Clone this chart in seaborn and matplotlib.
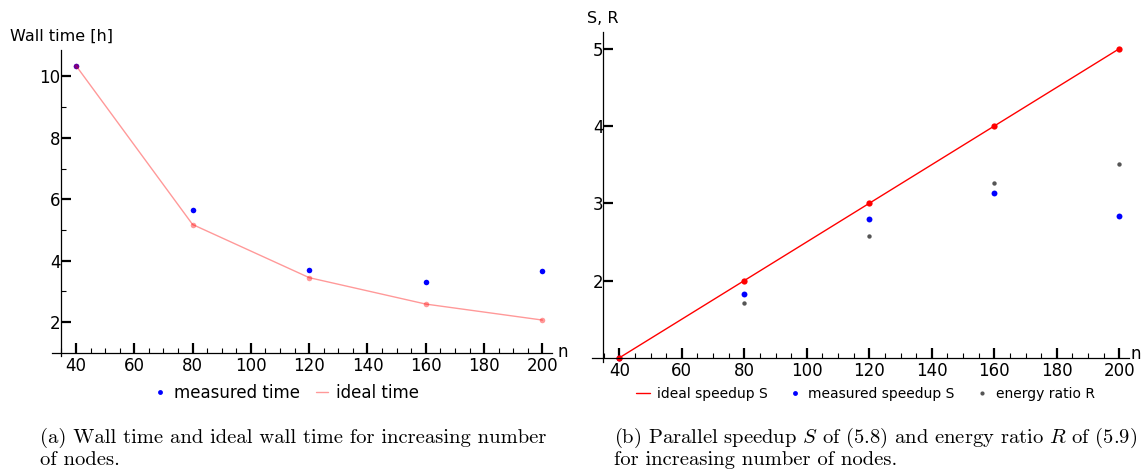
import matplotlib

matplotlib.use("Agg")
import matplotlib.pyplot as plt
import seaborn as sns
from matplotlib.lines import Line2D
from matplotlib.ticker import FixedLocator, MultipleLocator, NullFormatter

sns.set_style("white")
plt.rcParams["font.family"] = ["DejaVu Sans"]
plt.rcParams["mathtext.fontset"] = "cm"
plt.rcParams["text.color"] = "black"
plt.rcParams["xtick.color"] = "black"
plt.rcParams["ytick.color"] = "black"
plt.rcParams["xtick.labelcolor"] = "black"
plt.rcParams["ytick.labelcolor"] = "black"

# data
n_nodes = [40, 80, 120, 160, 200]
measured_time = [10.35, 5.65, 3.70, 3.31, 3.66]
ideal_time = [10.35, 5.18, 3.45, 2.59, 2.07]
ideal_speedup = [1.0, 2.0, 3.0, 4.0, 5.0]
measured_speedup = [1.0, 1.83, 2.79, 3.13, 2.84]
energy_ratio = [1.0, 1.71, 2.58, 3.26, 3.51]

W, H = 1145, 469
fig = plt.figure(figsize=(W / 100, H / 100), dpi=100)
SERIF = ["cmr10", "DejaVu Serif"]


def px_axes(x0, x1, y_top, y_bot):
    return fig.add_axes([x0 / W, 1 - y_bot / H, (x1 - x0) / W, (y_bot - y_top) / H])


def style_axes(ax, ycross_x):
    sns.despine(ax=ax)
    ax.spines["left"].set_position(("data", ycross_x))
    ax.spines["bottom"].set_position(("data", 1))
    for side in ("left", "bottom"):
        ax.spines[side].set_linewidth(0.9)
        ax.spines[side].set_color("black")
    ax.xaxis.set_major_locator(MultipleLocator(20))
    ax.xaxis.set_minor_locator(MultipleLocator(5))
    ax.tick_params(which="both", direction="in", bottom=True, left=True, color="black")
    ax.tick_params(which="major", length=7, width=1.6, labelsize=12, labelcolor="black")
    ax.tick_params(which="minor", length=3.5, width=0.8)
    ax.tick_params(axis="x", pad=3)
    ax.tick_params(axis="y", pad=0)
    ax.set_xlabel("")
    ax.set_ylabel("")
    ax.grid(False)


# (a) wall time
ax1 = px_axes(51.7, 551.7, 50, 356)
sns.scatterplot(x=n_nodes, y=measured_time, ax=ax1, color="blue", s=16, linewidth=0, clip_on=False)
sns.lineplot(x=n_nodes, y=ideal_time, ax=ax1, color="red", alpha=0.4, lw=1,
             marker="o", markersize=4, markeredgewidth=0)
ax1.set_xlim(31.66, 203.2)
ax1.set_ylim(0.9, 10.86)
style_axes(ax1, 34.75)
ax1.yaxis.set_major_locator(FixedLocator([2, 4, 6, 8, 10]))
ax1.yaxis.set_minor_locator(FixedLocator([3, 5, 7, 9]))
ax1.annotate("n", xy=(203.2, 1), xytext=(6, -4), textcoords="offset pixels",
             ha="left", va="baseline", fontsize=12)
fig.text(10 / W, 1 - 36 / H, "Wall time [h]", fontsize=11.5, va="center", ha="left")

handles1 = [
    Line2D([], [], ls="none", marker="o", color="blue", ms=3.5, mew=0),
    Line2D([], [], color="red", alpha=0.4, lw=1),
]
ax1.legend(handles1, ["measured time", "ideal time"], ncol=2, frameon=False, loc="center",
           bbox_to_anchor=(286.5 / W, 1 - 393 / H), bbox_transform=fig.transFigure,
           fontsize=12, handlelength=0.7, handletextpad=0.5, columnspacing=1.0)

# (b) speedup and energy ratio
ax2 = px_axes(592.3, 1129, 31.7, 361.7)
sns.scatterplot(x=n_nodes, y=measured_speedup, ax=ax2, color="blue", s=18, linewidth=0, clip_on=False)
sns.scatterplot(x=n_nodes, y=energy_ratio, ax=ax2, color="#555555", s=10, linewidth=0, clip_on=False)
sns.lineplot(x=n_nodes, y=ideal_speedup, ax=ax2, color="red", lw=1,
             marker="o", markersize=4.5, markeredgewidth=0, clip_on=False)
ax2.set_xlim(31.36, 203.1)
ax2.set_ylim(0.95, 5.22)
style_axes(ax2, 34.88)
ax2.yaxis.set_major_locator(FixedLocator([2, 3, 4, 5]))
ax2.yaxis.set_minor_formatter(NullFormatter())
ax2.annotate("n", xy=(203.1, 1), xytext=(2, -1), textcoords="offset pixels",
             ha="left", va="baseline", fontsize=12)
fig.text(587 / W, 1 - 18.5 / H, "S, R", fontsize=11.5, va="center", ha="left")

handles2 = [
    Line2D([], [], color="red", lw=1),
    Line2D([], [], ls="none", marker="o", color="blue", ms=3.5, mew=0),
    Line2D([], [], ls="none", marker="o", color="#555555", ms=3, mew=0),
]
ax2.legend(handles2, ["ideal speedup S", "measured speedup S", "energy ratio R"], ncol=3,
           frameon=False, loc="center", bbox_to_anchor=(865.5 / W, 1 - 394 / H),
           bbox_transform=fig.transFigure, fontsize=10, handlelength=1.0,
           handletextpad=0.45, columnspacing=1.5)

# captions
cap = dict(fontfamily=SERIF, fontsize=14.8, va="baseline")
fig.text(40 / W, 1 - 443 / H, "(a) Wall time and ideal wall time for increasing number", **cap)
fig.text(40 / W, 1 - 465 / H, "of nodes.", **cap)
fig.text(614 / W, 1 - 443 / H,
         r"(b) Parallel speedup $S$ of (5.8) and energy ratio $R$ of (5.9)", **cap)
fig.text(614 / W, 1 - 465 / H, "for increasing number of nodes.", **cap)

fig.savefig("out.png", dpi=100)
